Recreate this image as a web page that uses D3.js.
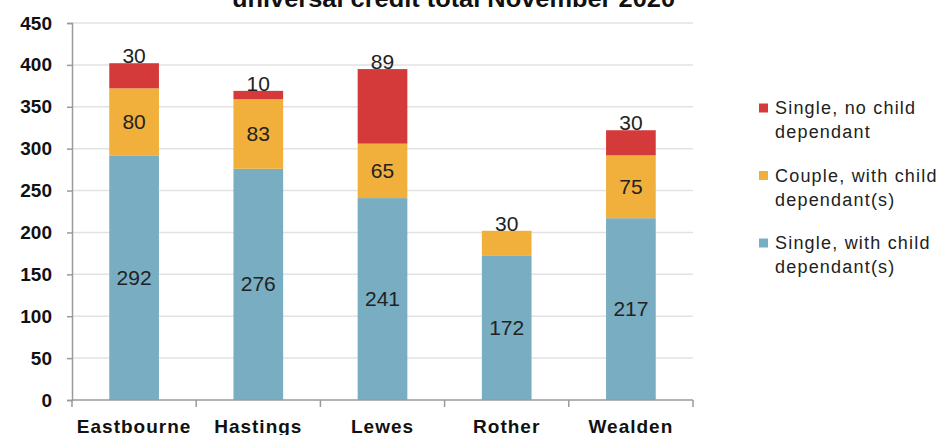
<!DOCTYPE html>
<html>
<head>
<meta charset="utf-8">
<script src="https://cdn.jsdelivr.net/npm/d3@7"></script>
<style>
  body { margin: 0; background: #fff; }
  svg { display: block; font-family: "Liberation Sans", Arial, sans-serif; }
</style>
</head>
<body>
<div id="chart"></div>
<script>
const categories = ["Eastbourne", "Hastings", "Lewes", "Rother", "Wealden"];
const singleWithChild = [292, 276, 241, 172, 217];
const coupleWithChild = [80, 83, 65, 30, 75];
const singleNoChild = [30, 10, 89, 0, 30];
const yTicks = [0, 50, 100, 150, 200, 250, 300, 350, 400, 450];
const legendLines = [
  ["Single, no child", "dependant"],
  ["Couple, with child", "dependant(s)"],
  ["Single, with child", "dependant(s)"]
];
const colors = ["#78adc2", "#f0b03b", "#d43a3a"];

const width = 940, height = 435;
const plotLeft = 72, plotRight = 693, plotTop = 23, plotBottom = 400;

const svg = d3.select("#chart").append("svg")
  .attr("width", width)
  .attr("height", height);

const rows = categories.map((c, i) => ({
  cat: c,
  s0: singleWithChild[i],
  s1: coupleWithChild[i],
  s2: singleNoChild[i]
}));
const stacked = d3.stack().keys(["s0", "s1", "s2"])(rows);

const x = d3.scaleBand()
  .domain(categories)
  .range([plotLeft, plotRight])
  .paddingInner(0.6)
  .paddingOuter(0.3);

const y = d3.scaleLinear()
  .domain([0, 450])
  .range([plotBottom, plotTop]);

// gridlines
svg.append("g")
  .selectAll("line")
  .data(yTicks.filter(d => d > 0))
  .join("line")
  .attr("x1", plotLeft)
  .attr("x2", plotRight)
  .attr("y1", d => y(d))
  .attr("y2", d => y(d))
  .attr("stroke", "#e2e2e2")
  .attr("stroke-width", 1.5);

// bars
svg.append("g")
  .selectAll("g")
  .data(stacked)
  .join("g")
  .attr("fill", (d, i) => colors[i])
  .selectAll("rect")
  .data(d => d)
  .join("rect")
  .attr("x", d => x(d.data.cat))
  .attr("width", x.bandwidth())
  .attr("y", d => y(d[1]))
  .attr("height", d => y(d[0]) - y(d[1]));

// y axis
const yAxis = svg.append("g")
  .attr("transform", `translate(${plotLeft},0)`)
  .call(d3.axisLeft(y).tickValues(yTicks).tickSize(5).tickPadding(15));
yAxis.select(".domain").attr("stroke", "#9a9a9a").attr("stroke-width", 1.5);
yAxis.selectAll(".tick line").attr("stroke", "#9a9a9a").attr("stroke-width", 1.5);
yAxis.selectAll("text")
  .attr("fill", "#111")
  .style("font-size", "19px")
  .style("font-weight", "bold");

// x axis
const step = x.step();
svg.append("line")
  .attr("x1", plotLeft).attr("x2", plotRight)
  .attr("y1", plotBottom).attr("y2", plotBottom)
  .attr("stroke", "#9a9a9a").attr("stroke-width", 1.5);
svg.append("g")
  .selectAll("line")
  .data(d3.range(categories.length + 1))
  .join("line")
  .attr("x1", i => plotLeft + i * step)
  .attr("x2", i => plotLeft + i * step)
  .attr("y1", plotBottom)
  .attr("y2", plotBottom + 7)
  .attr("stroke", "#9a9a9a")
  .attr("stroke-width", 1.5);
svg.append("g")
  .selectAll("text")
  .data(categories)
  .join("text")
  .attr("x", d => x(d) + x.bandwidth() / 2)
  .attr("y", 433)
  .attr("text-anchor", "middle")
  .attr("fill", "#111")
  .style("font-size", "19px")
  .style("font-weight", "bold")
  .style("letter-spacing", "1px")
  .text(d => d);

// data labels
const labels = [];
stacked.forEach((s, si) => {
  s.forEach((d, ci) => {
    const v = d[1] - d[0];
    if (v <= 0) return;
    const isTop = stacked.slice(si + 1).every(o => o[ci][1] - o[ci][0] <= 0);
    labels.push({
      cat: d.data.cat,
      v: v,
      yPos: isTop ? y(d[1]) : (y(d[0]) + y(d[1])) / 2 + 7
    });
  });
});
svg.append("g")
  .selectAll("text")
  .data(labels)
  .join("text")
  .attr("x", d => x(d.cat) + x.bandwidth() / 2)
  .attr("y", d => d.yPos)
  .attr("text-anchor", "middle")
  .attr("fill", "#222")
  .style("font-size", "21px")
  .text(d => d.v);

// title (cut off at top)
svg.append("text")
  .attr("x", 453.5)
  .attr("y", 7)
  .attr("text-anchor", "middle")
  .attr("fill", "#111")
  .attr("textLength", 443)
  .attr("lengthAdjust", "spacingAndGlyphs")
  .style("font-size", "23px")
  .style("font-weight", "bold")
  .text("universal credit total November 2020");

// legend
const legendColors = [colors[2], colors[1], colors[0]];
const lg = svg.append("g")
  .selectAll("g")
  .data(legendLines)
  .join("g")
  .attr("transform", (d, i) => `translate(759,${108 + i * 67.5})`);
lg.append("rect")
  .attr("x", 0)
  .attr("y", -4.5)
  .attr("width", 9)
  .attr("height", 9)
  .attr("fill", (d, i) => legendColors[i]);
lg.append("text")
  .attr("x", 16)
  .attr("y", 6)
  .attr("fill", "#222")
  .style("font-size", "18px")
  .style("letter-spacing", "1.2px")
  .selectAll("tspan")
  .data(d => d)
  .join("tspan")
  .attr("x", 16)
  .attr("dy", (d, i) => i === 0 ? 0 : 24)
  .text(d => d);
</script>
</body>
</html>
